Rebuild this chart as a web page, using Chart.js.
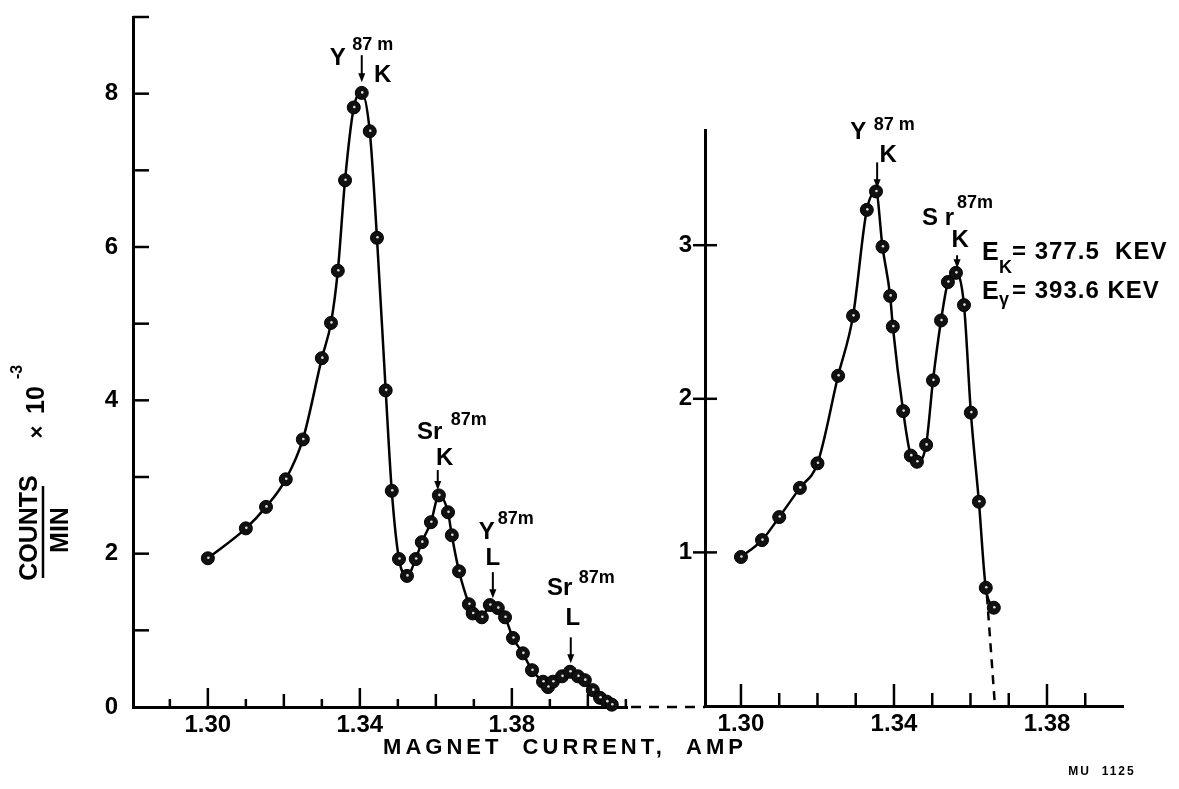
<!DOCTYPE html>
<html>
<head>
<meta charset="utf-8">
<script src="https://cdn.jsdelivr.net/npm/chart.js@4.4.1/dist/chart.umd.min.js"></script>
<style>
  html, body { margin: 0; padding: 0; background: #fff; }
  #wrap { position: relative; width: 1179px; height: 789px; }
  canvas { position: absolute; left: 0; top: 0; }
</style>
</head>
<body>
<div id="wrap">
  <canvas id="left" width="1179" height="789"></canvas>
  <canvas id="right" width="1179" height="789"></canvas>
</div>
<script>
const FONT = "'Liberation Sans', Arial, sans-serif";

// left panel: full scan
const leftCurrent = [1.3000, 1.3100, 1.3153, 1.3205, 1.3250, 1.3300, 1.3324, 1.3342, 1.3361, 1.3384,
  1.3405, 1.3426, 1.3445, 1.3468, 1.3484, 1.3503, 1.3524, 1.3547, 1.3563, 1.3587,
  1.3608, 1.3632, 1.3642, 1.3661, 1.3687, 1.3697, 1.3721, 1.3742, 1.3763, 1.3782,
  1.3803, 1.3829, 1.3853, 1.3882, 1.3895, 1.3908, 1.3932, 1.3953, 1.3974, 1.3992,
  1.4013, 1.4032, 1.4050, 1.4063];
const leftCounts = [1.94, 2.33, 2.61, 2.97, 3.49, 4.55, 5.01, 5.69, 6.87, 7.82,
  8.01, 7.51, 6.12, 4.13, 2.82, 1.93, 1.71, 1.93, 2.15, 2.41,
  2.76, 2.54, 2.24, 1.77, 1.34, 1.22, 1.17, 1.33, 1.29, 1.17,
  0.90, 0.70, 0.48, 0.33, 0.26, 0.33, 0.40, 0.46, 0.40, 0.35,
  0.22, 0.12, 0.07, 0.03];

// right panel: second run
const rightCurrent = [1.3000, 1.3055, 1.3100, 1.3154, 1.3200, 1.3254, 1.3293, 1.3329, 1.3353, 1.3370,
  1.3390, 1.3397, 1.3424, 1.3444, 1.3460, 1.3484, 1.3502, 1.3523, 1.3541, 1.3562,
  1.3583, 1.3601, 1.3622, 1.3640, 1.3661];
const rightCounts = [0.97, 1.08, 1.23, 1.42, 1.58, 2.15, 2.54, 3.23, 3.35, 2.99,
  2.67, 2.47, 1.92, 1.63, 1.59, 1.70, 2.12, 2.51, 2.76, 2.82,
  2.61, 1.91, 1.33, 0.77, 0.64];
const rightTailCurrent = [1.3643, 1.3664];
const rightTailCounts = [0.72, 0];

const leftXTicks = [1.29, 1.30, 1.31, 1.32, 1.33, 1.34, 1.35, 1.36, 1.37, 1.38, 1.39, 1.40, 1.41];
const leftXLabels = [1.30, 1.34, 1.38];
const leftYTicks = [1, 2, 3, 4, 5, 6, 7, 8, 9];
const leftYLabels = [0, 2, 4, 6, 8];
const rightXTicks = [1.30, 1.31, 1.32, 1.33, 1.34, 1.35, 1.36, 1.37, 1.38, 1.39];
const rightXLabels = [1.30, 1.34, 1.38];
const rightYTicks = [1, 2, 3];
const rightYLabels = [1, 2, 3];

function near(a, b) { return Math.abs(a - b) < 1e-6; }
function pts(xs, ys) { return xs.map((x, i) => ({ x: x, y: ys[i] })); }

// tick marks drawn inside the axes
const insideTicks = {
  id: 'insideTicks',
  afterDraw(chart, args, opts) {
    const ctx = chart.ctx;
    const sx = chart.scales.x, sy = chart.scales.y;
    ctx.save();
    ctx.strokeStyle = '#000';
    ctx.lineWidth = 2.5;
    opts.xTicks.forEach(v => {
      const px = sx.getPixelForValue(v);
      ctx.beginPath();
      ctx.moveTo(px, sy.bottom);
      ctx.lineTo(px, sy.bottom - opts.xLen(v));
      ctx.stroke();
    });
    opts.yTicks.forEach(v => {
      const py = sy.getPixelForValue(v);
      ctx.beginPath();
      ctx.moveTo(sx.left - opts.yOut, py);
      ctx.lineTo(sx.left + opts.yIn, py);
      ctx.stroke();
    });
    ctx.restore();
  }
};

// little light centre on each dot
const dotCentres = {
  id: 'dotCentres',
  afterDatasetsDraw(chart) {
    const ctx = chart.ctx;
    ctx.save();
    ctx.fillStyle = '#ddd';
    chart.data.datasets.forEach((ds, i) => {
      if (!ds.pointRadius) return;
      chart.getDatasetMeta(i).data.forEach(p => {
        ctx.beginPath();
        ctx.arc(p.x + 0.5, p.y - 0.5, 1.3, 0, Math.PI * 2);
        ctx.fill();
      });
    });
    ctx.restore();
  }
};

// isotope labels with arrows
const notes = {
  id: 'notes',
  afterDatasetsDraw(chart, args, opts) {
    const ctx = chart.ctx;
    const sx = chart.scales.x, sy = chart.scales.y;
    ctx.save();
    ctx.fillStyle = '#000';
    ctx.strokeStyle = '#000';
    ctx.textAlign = 'center';
    ctx.textBaseline = 'middle';
    (opts.marks || []).forEach(m => {
      const px = sx.getPixelForValue(m.x);
      const py = sy.getPixelForValue(m.y);
      ctx.lineWidth = 2;
      ctx.beginPath();
      ctx.moveTo(px, py - m.len);
      ctx.lineTo(px, py - 6);
      ctx.stroke();
      ctx.beginPath();
      ctx.moveTo(px - 3.5, py - 9);
      ctx.lineTo(px + 3.5, py - 9);
      ctx.lineTo(px, py);
      ctx.closePath();
      ctx.fill();
      m.text.forEach(t => {
        ctx.font = 'bold ' + t[3] + 'px ' + FONT;
        ctx.fillText(t[0], px + t[1], py + t[2]);
      });
    });
    ctx.restore();
  }
};

function rotText(ctx, txt, cx, cy, font) {
  ctx.save();
  ctx.translate(cx, cy);
  ctx.rotate(-Math.PI / 2);
  ctx.font = font;
  ctx.textAlign = 'center';
  ctx.textBaseline = 'middle';
  ctx.fillText(txt, 0, 0);
  ctx.restore();
}

// axis titles and the dashed gap between the panels
const leftExtras = {
  id: 'leftExtras',
  afterDraw(chart) {
    const ctx = chart.ctx;
    const area = chart.chartArea;
    ctx.save();
    ctx.fillStyle = '#000';
    ctx.strokeStyle = '#000';

    ctx.lineWidth = 2.5;
    ctx.setLineDash([10, 8]);
    ctx.beginPath();
    ctx.moveTo(area.right + 4, area.bottom);
    ctx.lineTo(705, area.bottom);
    ctx.stroke();
    ctx.setLineDash([]);

    rotText(ctx, 'COUNTS', 30, 528, 'bold 25px ' + FONT);
    ctx.beginPath();
    ctx.moveTo(43, 486);
    ctx.lineTo(43, 578);
    ctx.stroke();
    rotText(ctx, 'MIN', 61, 530, 'bold 25px ' + FONT);
    rotText(ctx, '\u00d7', 38, 432, 'bold 22px ' + FONT);
    rotText(ctx, '10', 37, 400, 'bold 25px ' + FONT);
    rotText(ctx, '-3', 18, 372, 'bold 16px ' + FONT);

    ctx.font = 'bold 22px ' + FONT;
    ctx.letterSpacing = '4px';
    ctx.textAlign = 'center';
    ctx.textBaseline = 'middle';
    ctx.fillText('MAGNET  CURRENT,  AMP', 565, 748);
    ctx.font = 'bold 12px ' + FONT;
    ctx.letterSpacing = '2px';
    ctx.fillText('MU  1125', 1102, 772);
    ctx.restore();
  }
};

const rightExtras = {
  id: 'rightExtras',
  afterDraw(chart) {
    const ctx = chart.ctx;
    ctx.save();
    ctx.fillStyle = '#000';
    ctx.textBaseline = 'middle';
    ctx.textAlign = 'left';
    ctx.letterSpacing = '1px';
    ctx.font = 'bold 25px ' + FONT;
    ctx.fillText('E', 982, 253);
    ctx.fillText('E', 982, 292);
    ctx.font = 'bold 18px ' + FONT;
    ctx.fillText('K', 999, 268);
    ctx.fillText('\u03b3', 999, 300);
    ctx.font = 'bold 24px ' + FONT;
    ctx.fillText('= 377.5  KEV', 1012, 252);
    ctx.fillText('= 393.6 KEV', 1012, 291);
    ctx.restore();
  }
};

function xScale(min, max, ticks, labels, height) {
  return {
    type: 'linear',
    min: min,
    max: max,
    afterBuildTicks: s => { s.ticks = ticks.map(v => ({ value: v })); },
    afterFit: s => { s.height = height; s.paddingLeft = 0; s.paddingRight = 0; },
    border: { display: true, color: '#000', width: 3 },
    grid: { display: true, drawOnChartArea: false, drawTicks: false },
    ticks: {
      autoSkip: false,
      maxRotation: 0,
      padding: 4,
      color: '#000',
      font: { family: FONT, size: 24, weight: 'bold' },
      callback: v => labels.some(l => near(l, v)) ? v.toFixed(2) : ''
    }
  };
}

function yScale(min, max, ticks, labels, width, pad) {
  return {
    type: 'linear',
    min: min,
    max: max,
    afterBuildTicks: s => { s.ticks = ticks.map(v => ({ value: v })); },
    afterFit: s => { s.width = width; s.paddingTop = 0; s.paddingBottom = 0; },
    border: { display: true, color: '#000', width: 3 },
    grid: { display: true, drawOnChartArea: false, drawTicks: false },
    ticks: {
      autoSkip: false,
      padding: pad,
      color: '#000',
      font: { family: FONT, size: 24, weight: 'bold' },
      callback: v => labels.some(l => near(l, v)) ? String(v) : ''
    }
  };
}

function curve(data) {
  return {
    data: data,
    showLine: true,
    borderColor: '#000',
    borderWidth: 2.5,
    cubicInterpolationMode: 'monotone',
    pointRadius: 6.5,
    pointBackgroundColor: '#111',
    pointBorderColor: '#000',
    pointBorderWidth: 1,
    clip: false
  };
}

new Chart(document.getElementById('left'), {
  type: 'scatter',
  data: { datasets: [curve(pts(leftCurrent, leftCounts))] },
  options: {
    responsive: false,
    animation: false,
    layout: { padding: { top: 17, right: 552, bottom: 0, left: 0 } },
    plugins: {
      legend: { display: false },
      tooltip: { enabled: false },
      insideTicks: {
        xTicks: leftXTicks,
        yTicks: leftYTicks,
        xLen: v => {
          const k = Math.round((v - 1.30) * 100);
          if (k % 4 === 0) return 19;
          if (k % 2 === 0) return 13;
          return 8;
        },
        yIn: 16,
        yOut: 0
      },
      notes: {
        marks: [
          { x: 1.3405, y: 8.15, len: 27, text: [['Y', -24, -24, 24], ['87 m', 11, -37, 18], ['K', 21, -7, 24]] },
          { x: 1.3605, y: 2.83, len: 20, text: [['Sr', -8, -58, 24], ['87m', 31, -70, 18], ['K', 7, -32, 24]] },
          { x: 1.3750, y: 1.42, len: 26, text: [['Y', -6, -66, 24], ['87m', 23, -79, 18], ['L', 0, -40, 24]] },
          { x: 1.3955, y: 0.57, len: 26, text: [['Sr', -11, -75, 24], ['87m', 26, -85, 18], ['L', 2, -45, 24]] }
        ]
      }
    },
    scales: {
      x: xScale(1.2803, 1.4103, leftXTicks, leftXLabels, 82),
      y: yScale(0, 9, [0].concat(leftYTicks), leftYLabels, 133, 15)
    }
  },
  plugins: [insideTicks, dotCentres, notes, leftExtras]
});

const tail = {
  data: pts(rightTailCurrent, rightTailCounts),
  showLine: true,
  borderColor: '#000',
  borderWidth: 2.5,
  borderDash: [9, 7],
  pointRadius: 0,
  clip: false
};

new Chart(document.getElementById('right'), {
  type: 'scatter',
  data: { datasets: [curve(pts(rightCurrent, rightCounts)), tail] },
  options: {
    responsive: false,
    animation: false,
    layout: { padding: { top: 130, right: 55.5, bottom: 0, left: 645 } },
    plugins: {
      legend: { display: false },
      tooltip: { enabled: false },
      insideTicks: {
        xTicks: rightXTicks,
        yTicks: rightYTicks,
        xLen: v => {
          const k = Math.round((v - 1.30) * 100);
          return k % 4 === 0 ? 22 : 13;
        },
        yIn: 12,
        yOut: 12
      },
      notes: {
        marks: [
          { x: 1.3356, y: 3.37, len: 26, text: [['Y', -19, -56, 24], ['87 m', 17, -63, 18], ['K', 11, -33, 24]] },
          { x: 1.3565, y: 2.85, len: 13, text: [['S r', -19, -50, 24], ['87m', 18, -65, 18], ['K', 3, -28, 24]] }
        ]
      }
    },
    scales: {
      x: xScale(1.2906, 1.40, rightXTicks, rightXLabels, 83),
      y: yScale(0, 3.75, rightYTicks, rightYLabels, 60, 13)
    }
  },
  plugins: [insideTicks, dotCentres, notes, rightExtras]
});
</script>
</body>
</html>
